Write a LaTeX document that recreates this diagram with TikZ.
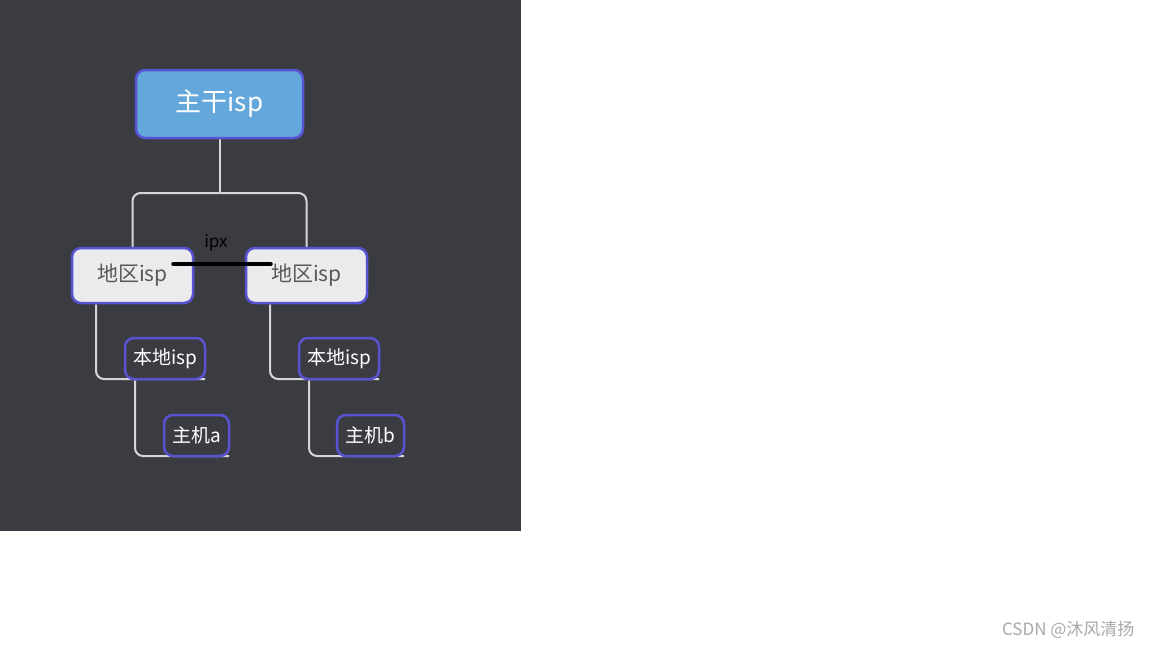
\documentclass[tikz,border=0pt]{standalone}
\usepackage{fontspec}
\setmainfont{Noto Sans CJK SC}
\usetikzlibrary{positioning,backgrounds}
\definecolor{bgdark}{HTML}{3B3C42}
\definecolor{zgblue}{HTML}{64A8DB}
\definecolor{edgeblue}{HTML}{5853D3}
\definecolor{dqgray}{HTML}{EBEBEE}
\definecolor{dqtext}{HTML}{595959}
\definecolor{linkgray}{HTML}{D6D6D6}
\definecolor{markgray}{HTML}{A8A8A8}
\begin{document}
\begin{tikzpicture}[x=1pt, y=-1pt,
    box/.style={draw=edgeblue, line width=2.5pt, rounded corners=9pt, inner sep=0pt},
    topbox/.style={box, fill=zgblue, text=white, minimum width=167pt, minimum height=68pt, font=\fontsize{26}{30}\selectfont},
    regbox/.style={box, fill=dqgray, text=dqtext, minimum width=121pt, minimum height=55pt, font=\fontsize{21}{25}\selectfont},
    leafbox/.style={box, text=white, minimum height=41pt, font=\fontsize{19}{22}\selectfont},
    link/.style={draw=linkgray, line width=2pt, rounded corners=8pt}]
    \useasboundingbox (0,0) rectangle (1152,648);

    \node[topbox] (zg) at (219.5,104) {主干isp};
    \node[regbox] (dq1) at (132.5,275.5) {地区isp};
    \node[regbox] (dq2) at (306.5,275.5) {地区isp};
    \node[leafbox, minimum width=80pt] (bd1) at (165,358.5) {本地isp};
    \node[leafbox, minimum width=80pt] (bd2) at (339,358.5) {本地isp};
    \node[leafbox, minimum width=65pt] (zj1) at (196.5,435.5) {主机a};
    \node[leafbox, minimum width=67pt] (zj2) at (370.5,435.5) {主机b};

    \coordinate (fork) at (219.5,193);
    \coordinate (ul1) at (205,379);
    \coordinate (ul2) at (229,456);
    \coordinate (ur1) at (379,379);
    \coordinate (ur2) at (404,456);

    % tree links behind the boxes
    \begin{scope}[on background layer]
        \fill[bgdark] (0,0) rectangle (521,531);
        \draw[link] (zg.south) -- (fork);
        \draw[link] (fork) -| (dq1.north);
        \draw[link] (fork) -| (dq2.north);
        \draw[link] ([xshift=-36.5pt]dq1.south) |- (ul1);
        \draw[link] ([xshift=-36.5pt]dq2.south) |- (ur1);
        \draw[link] ([xshift=-30pt]bd1.south) |- (ul2);
        \draw[link] ([xshift=-30pt]bd2.south) |- (ur2);
    \end{scope}

    % ipx link between the two regions
    \draw[black, line width=4pt, line cap=round] ([shift={(-21,-11.5)}]dq1.east) -- ([shift={(26,-11.5)}]dq2.west);
    \node[font=\fontsize{17}{20}\selectfont] (ipx) at (216,243) {ipx};

    \node[anchor=east, text=markgray, font=\fontsize{17}{20}\selectfont] (mark) at (1138,630) {CSDN @沐风清扬};
\end{tikzpicture}
\end{document}
